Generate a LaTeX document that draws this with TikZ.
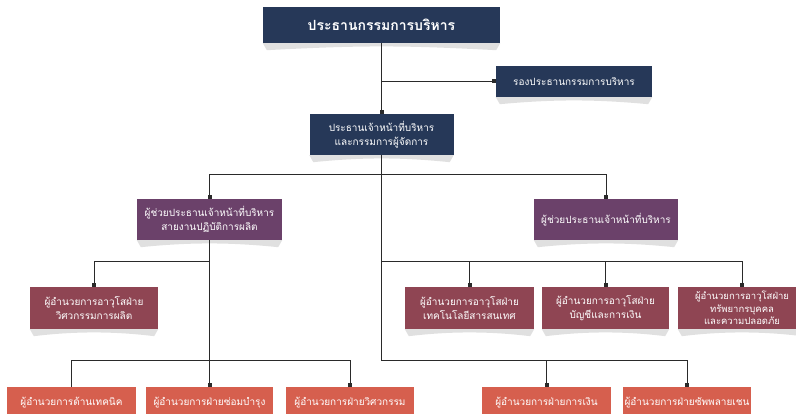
\documentclass[tikz,border=0pt]{standalone}
\usepackage{fontspec}
\newfontfamily\thaifont[Script=Thai]{Loma}
\usetikzlibrary{arrows.meta,calc}
\definecolor{navy}{HTML}{263858}
\definecolor{plum}{HTML}{6B416A}
\definecolor{maroon}{HTML}{8F4553}
\definecolor{coral}{HTML}{D65F4E}
\definecolor{linec}{HTML}{2A2A2A}
\tikzset{
  box/.style={rectangle, inner sep=1pt, align=center, text=white,
    font=\thaifont\fontsize{10}{14}\selectfont},
  navybox/.style={box, fill=navy},
  plumbox/.style={box, fill=plum},
  maroonbox/.style={box, fill=maroon},
  coralbox/.style={box, fill=coral},
  conn/.style={draw=linec, line width=1pt},
  mk/.style={conn, -{Square[length=4pt,width=4pt]}},
  shad/.style={fill=black, fill opacity=0.12}
}
\begin{document}
\begin{tikzpicture}[x=1pt,y=-1pt]
\useasboundingbox (0,0) rectangle (796,414);
% nodes
\node[navybox, minimum width=237pt, minimum height=36pt,
  font=\thaifont\bfseries\fontsize{14}{16}\selectfont] (top) at (381.5,25) {ประธานกรรมการบริหาร};
\node[navybox, minimum width=156pt, minimum height=31pt] (vp) at (574,81.5) {รองประธานกรรมการบริหาร};
\node[navybox, minimum width=144pt, minimum height=41pt] (ceo) at (381.5,134.5) {ประธานเจ้าหน้าที่บริหาร\\และกรรมการผู้จัดการ};
\node[plumbox, minimum width=145pt, minimum height=41pt] (pl) at (209.5,219.5) {ผู้ช่วยประธานเจ้าหน้าที่บริหาร\\สายงานปฏิบัติการผลิต};
\node[plumbox, minimum width=144pt, minimum height=41pt] (pr) at (606,219.5) {ผู้ช่วยประธานเจ้าหน้าที่บริหาร};
\node[maroonbox, minimum width=128pt, minimum height=42pt] (m1) at (94,308) {ผู้อำนวยการอาวุโสฝ่าย\\วิศวกรรมการผลิต};
\node[maroonbox, minimum width=129pt, minimum height=42pt] (m2) at (469.5,308) {ผู้อำนวยการอาวุโสฝ่าย\\เทคโนโลยีสารสนเทศ};
\node[maroonbox, minimum width=127pt, minimum height=42pt] (m3) at (605.5,308) {ผู้อำนวยการอาวุโสฝ่าย\\บัญชีและการเงิน};
\node[maroonbox, minimum width=128pt, minimum height=42pt,
  font=\thaifont\fontsize{9.5}{12.5}\selectfont] (m4) at (742,308) {ผู้อำนวยการอาวุโสฝ่าย\\ทรัพยากรบุคคล\\และความปลอดภัย};
\node[coralbox, minimum width=129pt, minimum height=31pt] (c1) at (71.5,402.5) {ผู้อำนวยการด้านเทคนิค};
\node[coralbox, minimum width=127pt, minimum height=31pt] (c2) at (209.5,402.5) {ผู้อำนวยการฝ่ายซ่อมบำรุง};
\node[coralbox, minimum width=128pt, minimum height=31pt] (c3) at (350,402.5) {ผู้อำนวยการฝ่ายวิศวกรรม};
\node[coralbox, minimum width=129pt, minimum height=31pt] (c4) at (546.5,402.5) {ผู้อำนวยการฝ่ายการเงิน};
\node[coralbox, minimum width=128pt, minimum height=31pt] (c5) at (687,402.5) {ผู้อำนวยการฝ่ายซัพพลายเชน};
% shadows
\foreach \n in {top,vp,ceo,pl,pr,m1,m2,m3,m4}{
  \fill[shad] (\n.south west) -- ($(\n.south west)+(4,7)$)
    .. controls ($(\n.south)+(-20,2)$) and ($(\n.south)+(20,2)$) .. ($(\n.south east)+(-4,7)$)
    -- (\n.south east) -- cycle;
}
% connectors
\coordinate (j1) at (381.5,175);
\coordinate (j2) at (381.5,262);
\coordinate (j3) at (381.5,361);
\draw[mk] (top.south) -- (ceo.north);
\draw[mk] (top.south |- vp.west) -- (vp.west);
\draw[conn] (ceo.south) -- (j3);
\draw[mk] (j1) -| (pl.north);
\draw[mk] (j1) -| (pr.north);
\draw[mk] (j2) -| (m2.north);
\draw[mk] (j2) -| (m3.north);
\draw[mk] (j2) -| (m4.north);
\draw[mk] (j3) -| (c4.north);
\draw[mk] (j3) -| (c5.north);
\coordinate (k2) at (pl.south |- j2);
\coordinate (k3) at (pl.south |- j3);
\draw[mk] (pl.south) -- (c2.north);
\draw[mk] (k2) -| (m1.north);
\draw[conn] (k3) -| (c1.north);
\draw[mk] (k3) -| (c3.north);
\end{tikzpicture}
\end{document}
